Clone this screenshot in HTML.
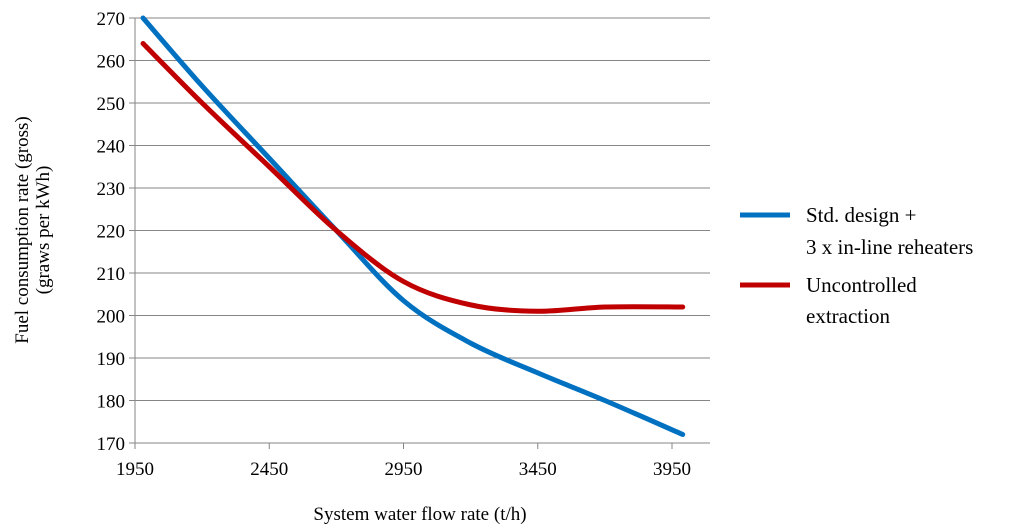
<!DOCTYPE html>
<html><head><meta charset="utf-8"><style>
html,body{margin:0;padding:0;background:#fff;}
svg{display:block;font-family:"Liberation Serif",serif;}
</style></head><body>
<svg id="chart" width="1024" height="532" viewBox="0 0 1024 532" xmlns="http://www.w3.org/2000/svg">
<g id="grid"></g>
<g id="yticks"></g>
<g id="xticks"></g>
<g id="series"></g>
<text x="420" y="520" font-size="19" text-anchor="middle" fill="#000">System water flow rate (t/h)</text>
<text transform="translate(28,230) rotate(-90)" font-size="19" text-anchor="middle" fill="#000"><tspan x="0" y="0">Fuel consumption rate (gross)</tspan><tspan x="0" y="21">(graws per kWh)</tspan></text>
<g>
<line x1="740" y1="215" x2="790" y2="215" stroke="#0070C0" stroke-width="5"/>
<text font-size="21" fill="#000"><tspan x="806" y="222">Std. design +</tspan><tspan x="806" y="254">3 x in-line reheaters</tspan></text>
<line x1="740" y1="285" x2="790" y2="285" stroke="#C00000" stroke-width="5"/>
<text font-size="21" fill="#000"><tspan x="806" y="292">Uncontrolled</tspan><tspan x="806" y="323">extraction</tspan></text>
</g>
</svg>
<script>
const xTicks=[1950,2450,2950,3450,3950];
const yTicks=[170,180,190,200,210,220,230,240,250,260,270];
const flowRates=[1980,2200,2450,2700,2950,3200,3450,3700,3990];
const stdDesign=[270,254,237,220,203.5,193.5,186.5,180,172];
const uncontrolled=[264,250,235,220,208,202.5,201,202,202];
const NS="http://www.w3.org/2000/svg";
const X0=135,X1=672,XR=710,Y0=443,Y1=18;
function xs(v){return X0+(v-1950)/(3950-1950)*(X1-X0);}
function ys(v){return Y0-(v-170)/(270-170)*(Y0-Y1);}
function mk(tag,attrs,parent){const e=document.createElementNS(NS,tag);for(const k in attrs)e.setAttribute(k,attrs[k]);parent.appendChild(e);return e;}
const grid=document.getElementById('grid'),yg=document.getElementById('yticks'),xg=document.getElementById('xticks'),sg=document.getElementById('series');
yTicks.forEach(t=>{
 const l=mk('line',{x1:X0-6,x2:XR,y1:ys(t),y2:ys(t),stroke:'#868686','stroke-width':1},grid);
 
 
 const tx=mk('text',{x:X0-10,y:ys(t)+7,'font-size':19,'text-anchor':'end',fill:'#000'},yg);
 tx.textContent=t;
 
 
});
const ax=mk('line',{x1:X0,x2:X0,y1:Y1,y2:Y0,stroke:'#868686','stroke-width':1},yg);


xTicks.forEach(t=>{
 const l=mk('line',{x1:xs(t),x2:xs(t),y1:Y0,y2:Y0+6,stroke:'#868686','stroke-width':1},xg);
 
 
 const tx=mk('text',{x:xs(t),y:Y0+32,'font-size':19,'text-anchor':'middle',fill:'#000'},xg);
 tx.textContent=t;
 
 
});
function path(vals){
 const p=flowRates.map((x,i)=>[xs(x),ys(vals[i])]);
 let d='M'+p[0][0]+','+p[0][1];
 for(let i=0;i<p.length-1;i++){
  const a=p[i-1]||p[i],b=p[i],c=p[i+1],e=p[i+2]||c;
  d+=' C'+(b[0]+(c[0]-a[0])/6)+','+(b[1]+(c[1]-a[1])/6)+' '+(c[0]-(e[0]-b[0])/6)+','+(c[1]-(e[1]-b[1])/6)+' '+c[0]+','+c[1];
 }
 return d;
}
const s1=mk('path',{d:path(stdDesign),fill:'none',stroke:'#0070C0','stroke-width':5,'stroke-linecap':'round'},sg);


const s2=mk('path',{d:path(uncontrolled),fill:'none',stroke:'#C00000','stroke-width':5,'stroke-linecap':'round'},sg);


</script>
</body></html>
